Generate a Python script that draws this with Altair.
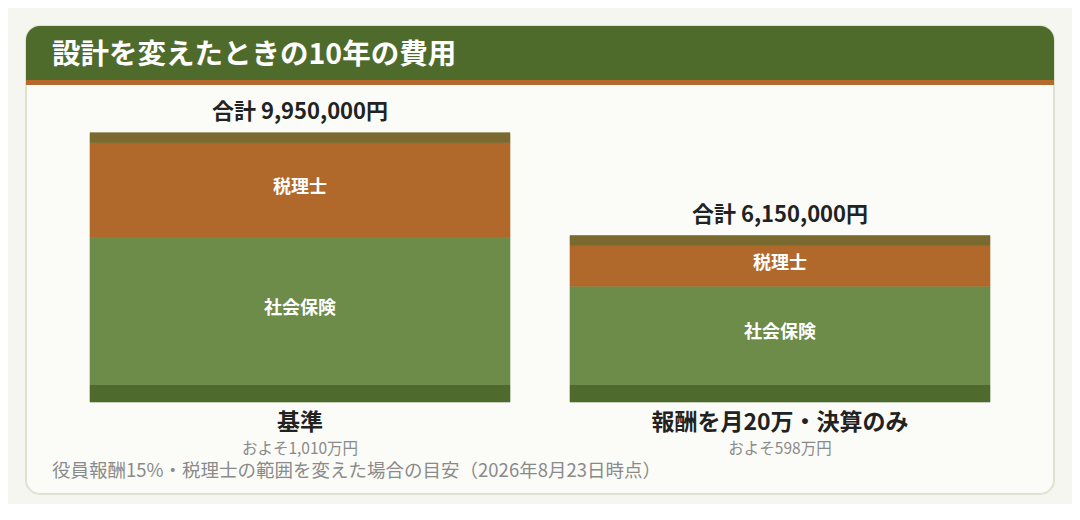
import altair as alt
import pandas as pd

# ---- data ----
categories = ["基準", "報酬を月20万・決算のみ"]
subtitles = ["およそ1,010万円", "およそ598万円"]
segments = ["均等割", "社会保険", "税理士", "その他"]  # bottom -> top
seg_colors = ["#4e6a2c", "#6d8b49", "#b0692a", "#7a6a30"]
show_label = [False, True, True, False]
values_base = [650000, 5430000, 3500000, 370000]
values_alt = [650000, 3630000, 1500000, 370000]
totals = [9950000, 6150000]
title_text = "設計を変えたときの10年の費用"
footnote = "役員報酬15%・税理士の範囲を変えた場合の目安（2026年8月23日時点）"

FONT = "Noto Sans CJK JP"
W, H = 1028, 468

rows = []
for cat, vals in zip(categories, [values_base, values_alt]):
    start = 0
    for seg, v, show in zip(segments, vals, show_label):
        rows.append({"cat": cat, "seg": seg, "start": start, "end": start + v,
                     "mid": start + v / 2, "label": seg if show else ""})
        start += v
seg_df = pd.DataFrame(rows)
tot_df = pd.DataFrame({"cat": categories, "total": totals,
                       "label": [f"合計 {t:,}円" for t in totals],
                       "sub": subtitles})

xs = alt.Scale(domain=categories, range=[64, 964], paddingInner=0.125, paddingOuter=0)
ys = alt.Scale(domain=[0, 13890000], range=[376, 0])
X = alt.X("cat:N", scale=xs, axis=None)
seg_scale = alt.Scale(domain=segments, range=seg_colors)

bars = alt.Chart(seg_df).mark_bar(strokeWidth=0.6).encode(
    x=X,
    y=alt.Y("start:Q", scale=ys, axis=None),
    y2="end:Q",
    color=alt.Color("seg:N", scale=seg_scale, legend=None),
    stroke=alt.Stroke("seg:N", scale=seg_scale, legend=None),
)

seg_text = alt.Chart(seg_df).mark_text(font=FONT, fontSize=18, fontWeight="bold",
                                       color="white", baseline="middle", dy=-2).encode(
    x=X, y=alt.Y("mid:Q", scale=ys, axis=None), text="label:N")

tot_text = alt.Chart(tot_df).mark_text(font=FONT, fontSize=22, fontWeight="bold",
                                       color="#222222", baseline="middle", dy=-21).encode(
    x=X, y=alt.Y("total:Q", scale=ys, axis=None), text="label:N")

cat_text = alt.Chart(tot_df).mark_text(font=FONT, fontSize=23, fontWeight="bold",
                                       color="#222222", baseline="middle").encode(
    x=X, y=alt.value(397), text="cat:N")

sub_text = alt.Chart(tot_df).mark_text(font=FONT, fontSize=15.5, color="#8a8a8a",
                                       baseline="middle").encode(
    x=X, y=alt.value(423), text="sub:N")

one = alt.Data(values=[{"t": title_text, "f": footnote}])
header = alt.Chart(one).mark_rect(color="#4e6b2b", cornerRadiusTopLeft=14,
                                  cornerRadiusTopRight=14).encode(
    x=alt.value(0), x2=alt.value(W), y=alt.value(0), y2=alt.value(54))
stripe = alt.Chart(one).mark_rect(color="#b5692a").encode(
    x=alt.value(0), x2=alt.value(W), y=alt.value(54), y2=alt.value(59))
title = alt.Chart(one).mark_text(font=FONT, fontSize=28.5, fontWeight="bold", color="white",
                                 align="left", baseline="middle").encode(
    x=alt.value(26), y=alt.value(29), text="t:N")
foot = alt.Chart(one).mark_text(font=FONT, fontSize=18.5, color="#8a8a8a",
                                align="left", baseline="middle").encode(
    x=alt.value(26), y=alt.value(445), text="f:N")

chart = alt.layer(header, stripe, title, bars, seg_text, tot_text, cat_text, sub_text, foot).properties(
    width=W, height=H,
    padding={"left": 18, "top": 18, "right": 18, "bottom": 10},
    background="#f4f6ef",
    autosize=alt.AutoSizeParams(type="none"),
).configure_view(
    fill="#fbfcf8", stroke="#dde3d0", strokeWidth=2, cornerRadius=14,
)

chart.save("out.html", embed_options={"renderer": "svg", "actions": False})
